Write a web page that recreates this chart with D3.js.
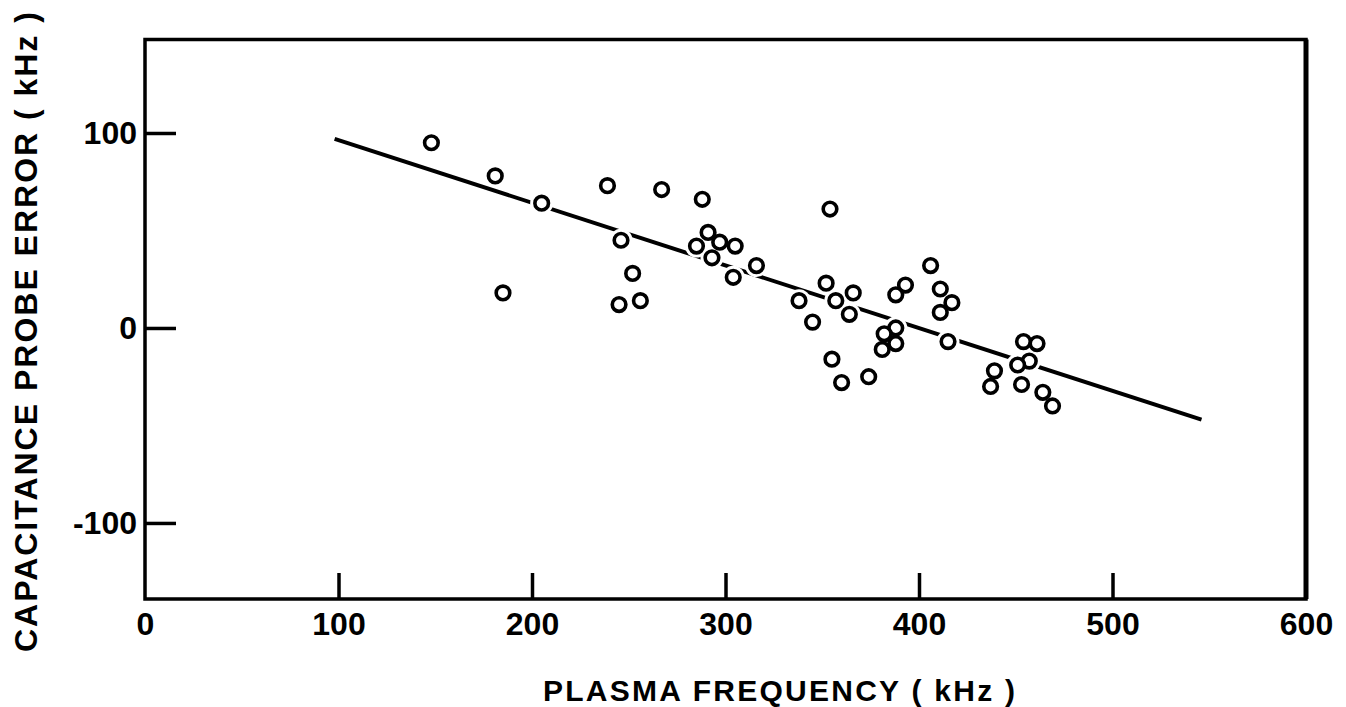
<!DOCTYPE html>
<html>
<head>
<meta charset="utf-8">
<script src="https://cdn.jsdelivr.net/npm/d3@7"></script>
<style>
  html, body { margin: 0; padding: 0; background: #fff; }
  svg text { font-family: "Liberation Sans", Arial, sans-serif; font-weight: bold; fill: #000; }
</style>
</head>
<body>
<svg id="chart" width="1346" height="707"></svg>
<script>
// plasma frequency (kHz) vs capacitance probe error (kHz)
var freq = [148, 181, 205, 185, 239, 267, 288, 246, 291, 285, 297, 305, 293, 304, 316, 252, 245, 256,
            354, 338, 352, 357, 366, 364, 345, 393, 388, 388, 382, 388, 381, 355, 360, 374,
            406, 411, 417, 411, 415, 454, 461, 457, 451, 439, 437, 453, 464, 469];
var err  = [95, 78, 64, 18, 73, 71, 66, 45, 49, 42, 44, 42, 36, 26, 32, 28, 12, 14,
            61, 14, 23, 14, 18, 7, 3, 22, 17, 0, -3, -8, -11, -16, -28, -25,
            32, 20, 13, 8, -7, -7, -8, -17, -19, -22, -30, -29, -33, -40];
var fitX = [98, 546];
var fitY = [97, -47];
var xTicks = [100, 200, 300, 400, 500];
var xLabels = [0, 100, 200, 300, 400, 500, 600];
var yTicks = [-100, 0, 100];

var svg = d3.select('#chart');
var x = d3.scaleLinear().domain([0, 600]).range([145, 1306]);
var y = d3.scaleLinear().domain([-139, 148]).range([599, 39.4]);

// fit line
var fit = fitX.map(function(v, i){ return [v, fitY[i]]; });
svg.append('path')
  .datum(fit)
  .attr('d', d3.line().x(function(d){ return x(d[0]); }).y(function(d){ return y(d[1]); }))
  .attr('fill', 'none')
  .attr('stroke', '#000')
  .attr('stroke-width', 4);

var pts = freq.map(function(f, i){ return { f: f, e: err[i] }; });

// white halo so the line breaks around the circles like the drawing
svg.append('g').selectAll('circle').data(pts).enter().append('circle')
  .attr('cx', function(d){ return x(d.f); })
  .attr('cy', function(d){ return y(d.e); })
  .attr('r', 11.5)
  .attr('fill', '#fff');

svg.append('g').selectAll('circle').data(pts).enter().append('circle')
  .attr('cx', function(d){ return x(d.f); })
  .attr('cy', function(d){ return y(d.e); })
  .attr('r', 6.8)
  .attr('fill', '#fff')
  .attr('stroke', '#000')
  .attr('stroke-width', 3.6);

// frame
var x0 = x.range()[0], x1 = x.range()[1], y0 = y.range()[1], y1 = y.range()[0];
svg.append('path')
  .attr('d', 'M' + x0 + ',' + y0 + 'H' + x1 + 'V' + y1 + 'H' + x0 + 'Z')
  .attr('fill', 'none')
  .attr('stroke', '#000')
  .attr('stroke-width', 3.5);
svg.append('line')
  .attr('x1', x1).attr('x2', x1).attr('y1', y0).attr('y2', y1)
  .attr('stroke', '#000').attr('stroke-width', 5);

// inward tick marks
var gxt = svg.append('g').attr('transform', 'translate(0,' + y1 + ')')
  .call(d3.axisBottom(x).tickValues(xTicks).tickSize(-26).tickFormat(''));
var gyt = svg.append('g').attr('transform', 'translate(' + x0 + ',0)')
  .call(d3.axisLeft(y).tickValues(yTicks).tickSize(-31).tickFormat(''));
[gxt, gyt].forEach(function(g){
  g.select('.domain').remove();
  g.selectAll('.tick line').attr('stroke', '#000').attr('stroke-width', 3.5);
});

// labels
var gxl = svg.append('g').attr('transform', 'translate(0,' + y1 + ')')
  .call(d3.axisBottom(x).tickValues(xLabels).tickSize(0).tickPadding(13));
var gyl = svg.append('g').attr('transform', 'translate(' + x0 + ',0)')
  .call(d3.axisLeft(y).tickValues(yTicks).tickSize(0).tickPadding(8)
    .tickFormat(function(d){ return d < 0 ? '-' + Math.abs(d) : d; }));
[gxl, gyl].forEach(function(g){
  g.select('.domain').remove();
  g.selectAll('text').attr('font-size', 32).attr('font-family', '"Liberation Sans", Arial, sans-serif')
    .attr('font-weight', 'bold').attr('fill', '#000');
});
gxl.selectAll('text').attr('dy', '0.71em');

svg.append('text')
  .attr('x', 543).attr('y', 701)
  .attr('font-size', 30)
  .attr('textLength', 472).attr('lengthAdjust', 'spacing')
  .text('PLASMA FREQUENCY ( kHz )');

svg.append('text')
  .attr('transform', 'translate(37,652) rotate(-90)')
  .attr('font-size', 32)
  .attr('textLength', 640).attr('lengthAdjust', 'spacing')
  .text('CAPACITANCE PROBE ERROR ( kHz )');
</script>
</body>
</html>
